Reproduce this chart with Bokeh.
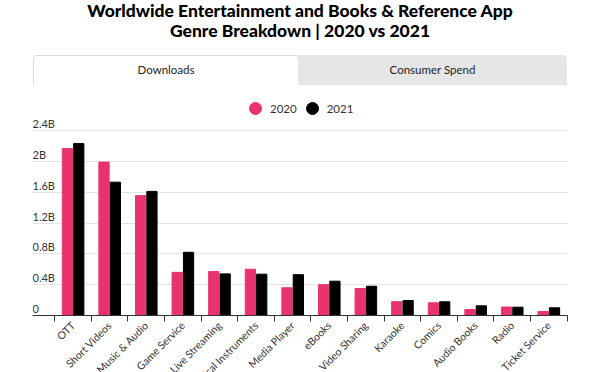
import numpy as np
from math import pi
from bokeh.plotting import figure
from bokeh.models import (Range1d, FixedTicker, ColumnDataSource, Legend,
                          LegendItem, Div)
from bokeh.layouts import column
from bokeh.core.properties import value
from bokeh.embed import file_html
from bokeh.resources import INLINE

# ---------------- data ----------------
categories = ["OTT", "Short Videos", "Music & Audio", "Game Service",
              "Live Streaming", "Musical Instruments", "Media Player",
              "eBooks", "Video Sharing", "Karaoke", "Comics",
              "Audio Books", "Radio", "Ticket Service"]
downloads_2020 = [2.165, 1.99, 1.555, 0.56, 0.57, 0.60, 0.36, 0.40, 0.35,
                  0.18, 0.165, 0.078, 0.11, 0.052]
downloads_2021 = [2.23, 1.73, 1.61, 0.82, 0.54, 0.536, 0.53, 0.445, 0.38,
                  0.195, 0.178, 0.125, 0.108, 0.10]
y_tick_values = [0, 0.4, 0.8, 1.2, 1.6, 2.0, 2.4]
y_tick_labels = ["0", "0.4B", "0.8B", "1.2B", "1.6B", "2B", "2.4B"]
series_names = ["2020", "2021"]
tab_labels = ["Downloads", "Consumer Spend"]
title_lines = ["Worldwide Entertainment and Books & Reference App",
               "Genre Breakdown | 2020 vs 2021"]

FONT = "Lato"
PINK = "#e9336f"
BLACK = "#000000"
TXT = "#333333"

idx = np.arange(len(categories))

# ---------------- header divs ----------------
title_div = Div(
    text=(f'<div style="position:relative;top:1px;width:600px;text-align:center;'
          f'font-family:{FONT};font-weight:900;font-size:17.5px;line-height:20px;color:#000;">'
          f'{title_lines[0]}<br>{title_lines[1]}</div>'),
    width=600, height=50, margin=(0, 0, 0, 0))

tabs_div = Div(
    text=(f'<div style="position:relative;width:600px;height:40px;font-family:{FONT};font-size:11.5px;color:#222;">'
          f'<div style="position:absolute;left:33px;top:5px;width:266px;height:30px;background:#fff;'
          f'border:1px solid #dcdcdc;border-bottom:none;border-radius:4px 4px 0 0;box-sizing:border-box;'
          f'display:flex;align-items:center;justify-content:center;">{tab_labels[0]}</div>'
          f'<div style="position:absolute;left:298px;top:5px;width:269px;height:30px;background:#e6e6e6;'
          f'border-radius:0 4px 0 0;display:flex;align-items:center;justify-content:center;">{tab_labels[1]}</div>'
          f'</div>'),
    width=600, height=40, margin=(0, 0, 0, 0))

# ---------------- chart ----------------
p = figure(height=282, width=600, frame_width=535, frame_height=225,
           output_backend="svg", toolbar_location=None,
           x_range=Range1d(-1.109, 13.51), y_range=Range1d(0, 2.919),
           min_border_left=32, min_border_right=33, min_border_top=0,
           min_border_bottom=57)
p.outline_line_color = None
p.background_fill_color = "white"
p.border_fill_color = "white"

src = ColumnDataSource(dict(x20=idx - 0.155, x21=idx + 0.155,
                            v20=downloads_2020, v21=downloads_2021))
p.vbar(x="x20", top="v20", width=0.28, source=src, color=PINK)
p.vbar(x="x21", top="v21", width=0.28, source=src, color=BLACK)

# y tick labels inside plot, above gridlines
ysrc = ColumnDataSource(dict(x=[p.x_range.start] * len(y_tick_values),
                             y=y_tick_values, t=y_tick_labels))
p.text(x="x", y="y", text="t", source=ysrc, text_font=value(FONT),
       text_font_size="11px", text_color=TXT, text_align="left",
       text_baseline="middle", y_offset=-7)

p.yaxis.visible = False
p.ygrid.ticker = FixedTicker(ticks=y_tick_values)
p.ygrid.grid_line_color = "#e3e3e3"
p.xgrid.grid_line_color = None

xa = p.xaxis[0]
xa.ticker = FixedTicker(ticks=list(idx), minor_ticks=list(idx - 0.5) + [idx[-1] + 0.5])
xa.major_label_overrides = {int(i): c for i, c in zip(idx, categories)}
xa.major_label_orientation = pi / 4
xa.major_tick_line_color = None
xa.minor_tick_in = 0
xa.minor_tick_out = 6
xa.minor_tick_line_color = "#333333"
xa.axis_line_color = "#333333"
xa.major_label_text_font = FONT
xa.major_label_text_font_size = "10.5px"
xa.major_label_text_color = TXT
xa.major_label_standoff = 2

# legend with circle markers (renderers hold no visible points)
leg_src = ColumnDataSource(dict(x=[np.nan], y=[np.nan]))
l20 = p.scatter(x="x", y="y", source=leg_src, marker="circle", color=PINK)
l21 = p.scatter(x="x", y="y", source=leg_src, marker="circle", color=BLACK)
legend = Legend(items=[LegendItem(label=value(series_names[0]), renderers=[l20]),
                       LegendItem(label=value(series_names[1]), renderers=[l21])],
                orientation="horizontal", location=(208, 192),
                glyph_width=30, glyph_height=30, label_standoff=0, spacing=-3,
                padding=0, margin=0, border_line_color=None,
                background_fill_alpha=0, label_text_font=FONT,
                label_text_font_size="11.5px", label_text_color=TXT)
p.add_layout(legend)

layout = column(title_div, tabs_div, p, spacing=0)
open("out.html", "w").write(file_html(layout, INLINE))
